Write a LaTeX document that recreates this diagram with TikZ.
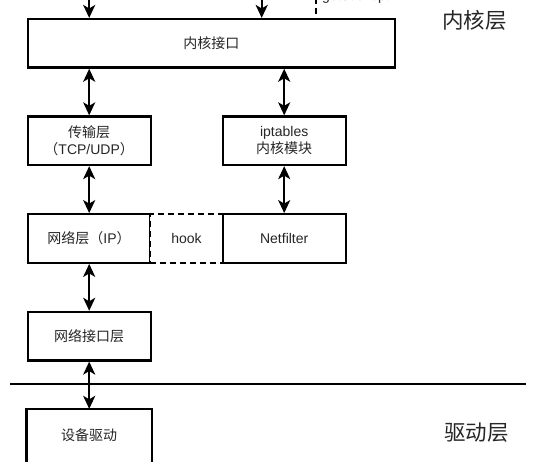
\documentclass[tikz,border=0pt]{standalone}
\usepackage{fontspec}
\setmainfont{Liberation Sans}
\newfontfamily\cjk{Noto Sans CJK SC}
\usetikzlibrary{arrows.meta,calc}
\definecolor{txt}{HTML}{262626}
\begin{document}
\begin{tikzpicture}[x=1pt,y=-1pt,
  box/.style={draw, line width=2.3pt, fill=white, text=txt, inner sep=0pt,
    minimum width=123pt, minimum height=48.5pt, align=center,
    font=\fontsize{14}{17.5}\selectfont},
  arr/.style={line width=2.3pt, -{Stealth[length=13pt,width=12pt,inset=3.5pt]}},
  darr/.style={line width=2.3pt, {Stealth[length=13pt,width=12pt,inset=3.5pt]}-{Stealth[length=13pt,width=12pt,inset=3.5pt]}},
  layerlbl/.style={text=txt, inner sep=0pt, font=\fontsize{21.5}{24}\selectfont\cjk},
  dashline/.style={line width=2.3pt, dash pattern=on 6pt off 4pt},
  boxline/.style={line width=2.3pt}]
\useasboundingbox (0,0) rectangle (556,462);
\clip (0,0) rectangle (556,462);

% layer separator
\coordinate (L1) at (10,384.3);
\coordinate (L2) at (526,384.3);
\draw[boxline] (L1) -- (L2);

% nodes
\node[box, minimum width=367.3pt] (core) at (211.35,43.35) {\cjk 内核接口};
\node[box] (trans) at (89.2,140.75) {{\cjk 传输层}\\{\cjk （}TCP/UDP{\cjk ）}};
\node[box] (ipt) at (284.2,140.75) {iptables\\{\cjk 内核模块}};
\node[box, minimum width=122.6pt] (ip) at (89,238.5) {{\cjk 网络层（}IP{\cjk ）}};
\node[box, minimum width=72.4pt, dash pattern=on 6pt off 4pt] (hook) at (186.5,238.5) {hook};
\node[box] (nf) at (284.2,238.5) {Netfilter};
\node[box] (nic) at (89.2,336.2) {\cjk 网络接口层};
\node[box, draw=none, minimum height=50pt] (drv) at (89.2,435) {\cjk 设备驱动};
\draw[boxline] ([yshift=-12pt]drv.south west) -- (drv.north west) -- (drv.north east) -- ([yshift=-12pt]drv.south east);

% layer labels
\node[layerlbl] (klbl) at (474.5,20.5) {内核层};
\node[layerlbl] (dlbl) at (476.5,433) {驱动层};

% incoming from above
\coordinate (ta1) at (89.2,-12);
\coordinate (ta2) at (261.7,-12);
\coordinate (td) at (316,-12);
\draw[arr] (ta1) -- (ta1 |- core.north);
\draw[arr] (ta2) -- (ta2 |- core.north);
\draw[dashline] (td) -- (td |- core.north);
\node[anchor=base west, inner sep=0pt, text=txt, font=\fontsize{14}{17}\selectfont] (gso) at (322,0.5) {getsockopt};

% connectors
\draw[darr] (trans |- core.south) -- (trans.north);
\draw[darr] (ipt |- core.south) -- (ipt.north);
\draw[darr] (trans.south) -- (ip.north -| trans);
\draw[darr] (ipt.south) -- (nf.north);
\draw[darr] (ip.south -| nic) -- (nic.north);
\draw[darr] (nic.south) -- (drv.north);
\end{tikzpicture}
\end{document}
